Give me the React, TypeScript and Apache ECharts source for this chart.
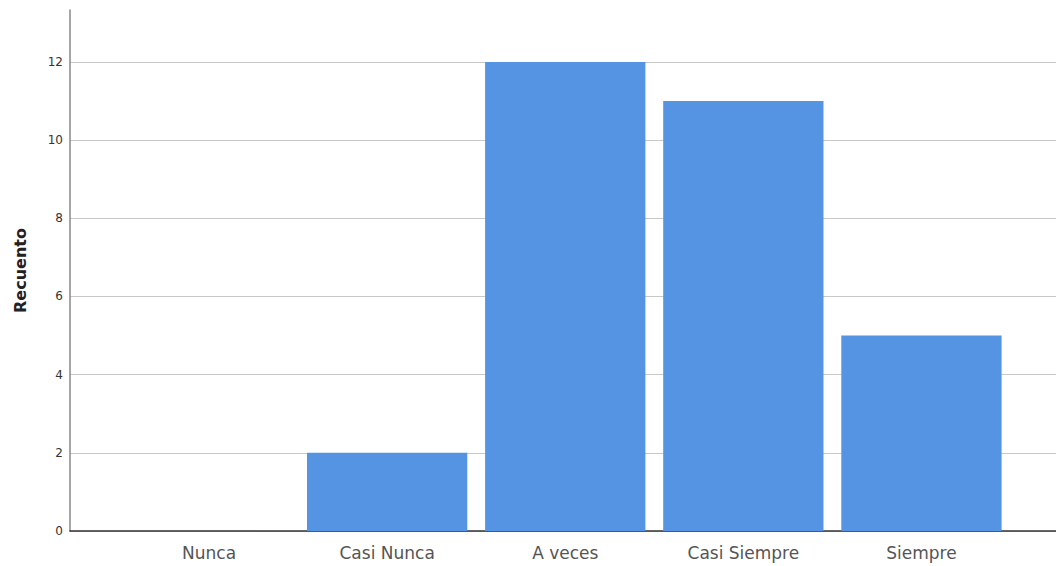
import React, { useEffect, useRef } from "react";
import * as echarts from "echarts";

const categories = ["Nunca", "Casi Nunca", "A veces", "Casi Siempre", "Siempre"];
const counts = [0, 2, 12, 11, 5];
const yTicks = [0, 2, 4, 6, 8, 10, 12];
const yAxisName = "Recuento";

export default function App() {
  const ref = useRef<HTMLDivElement>(null);
  useEffect(() => {
    if (!ref.current) return;
    const chart = echarts.init(ref.current, null, { renderer: "svg" });
    const yMax = 13.33;
    chart.setOption({
      animation: false,
      backgroundColor: "#ffffff",
      grid: [
        { left: 70, right: 0, top: 10, bottom: 35 },
        { left: 120, right: 45.5, top: 10, bottom: 35 },
      ],
      xAxis: [
        {
          type: "value",
          gridIndex: 0,
          min: 0,
          max: 1,
          axisLine: { show: true, lineStyle: { color: "#333333", width: 1.5 } },
          axisTick: { show: false },
          axisLabel: { show: false },
          splitLine: { show: false },
        },
        {
          type: "category",
          gridIndex: 1,
          data: categories,
          axisLine: { show: false },
          axisTick: { show: false },
          axisLabel: {
            color: "#555555",
            fontSize: 17,
            fontFamily: "DejaVu Sans, sans-serif",
            margin: 13,
          },
        },
      ],
      yAxis: [
        {
          type: "value",
          gridIndex: 0,
          min: 0,
          max: yMax,
          interval: 2,
          name: yAxisName,
          nameLocation: "middle",
          nameGap: 42,
          nameTextStyle: {
            color: "#222222",
            fontSize: 16,
            fontWeight: "bold",
            fontFamily: "DejaVu Sans, sans-serif",
          },
          axisLine: { show: true, lineStyle: { color: "#888888", width: 1.5 } },
          axisTick: { show: false },
          axisLabel: {
            showMaxLabel: false,
            color: "#333333",
            fontSize: 12,
            fontFamily: "DejaVu Sans, sans-serif",
            margin: 7,
            formatter: (v: number) => (yTicks.includes(v) ? String(v) : ""),
          },
          splitLine: { show: true, showMaxLine: false, lineStyle: { color: "#c8c8c8", width: 1 } },
        },
        {
          type: "value",
          gridIndex: 1,
          min: 0,
          max: yMax,
          show: false,
          splitLine: { show: false },
        },
      ],
      series: [
        {
          type: "bar",
          xAxisIndex: 1,
          yAxisIndex: 1,
          data: counts,
          barCategoryGap: "10%",
          itemStyle: { color: "#5594e3" },
        },
      ],
    });
    return () => chart.dispose();
  }, []);
  return <div ref={ref} style={{ width: 1056, height: 566, position: "absolute", left: 0, top: 0 }} />;
}
